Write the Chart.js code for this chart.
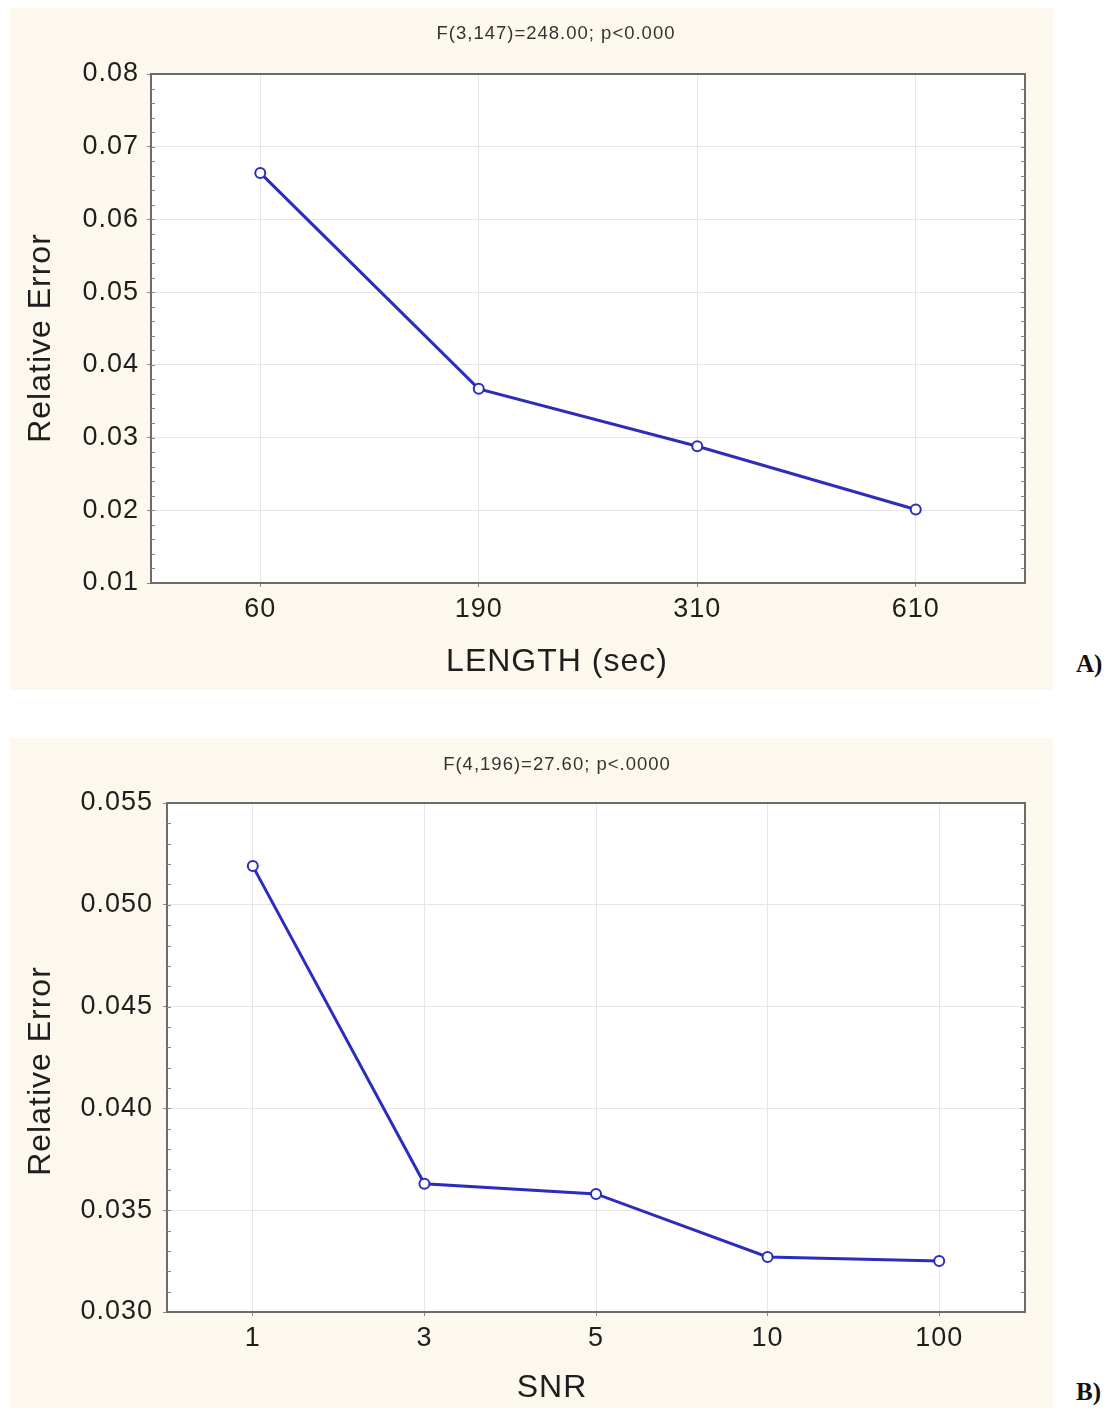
<!DOCTYPE html>
<html>
<head>
<meta charset="utf-8">
<script src="https://cdn.jsdelivr.net/npm/chart.js@4/dist/chart.umd.min.js"></script>
<style>
    body { margin: 0; background: #fff; width: 1110px; height: 1414px; position: relative; overflow: hidden; }
    .panel { position: absolute; left: 10px; width: 1043px; background: #fcf8ee; }
    .tag { position: absolute; left: 1076px; font: bold 25px "Liberation Serif", serif; color: #111; }
</style>
</head>
<body>
<div class="panel" style="top:8px;height:682px;"><canvas id="chartA" width="1043" height="682"></canvas></div>
<div class="panel" style="top:738px;height:670px;"><canvas id="chartB" width="1043" height="670"></canvas></div>
<div class="tag" style="top:650px;">A)</div>
<div class="tag" style="top:1378px;">B)</div>
<script>
// panel A: error vs. signal length
const lengthLabels = ['60', '190', '310', '610'];
const lengthError = [0.0664, 0.0367, 0.0288, 0.0201];
const lengthTicks = { min: 0.01, max: 0.08, step: 0.01, minor: 0.002, digits: 2 };

// panel B: error vs. SNR
const snrLabels = ['1', '3', '5', '10', '100'];
const snrError = [0.0519, 0.0363, 0.0358, 0.0327, 0.0325];
const snrTicks = { min: 0.030, max: 0.055, step: 0.005, minor: 0.001, digits: 3 };

const lineColor = '#2c2cbd';
const frameColor = '#6b6b6b';
const sans = '"Liberation Sans", Arial, sans-serif';

// white plot area, closed frame and small minor ticks like the original
const framePlugin = {
    id: 'frame',
    beforeDraw(chart) {
        const a = chart.chartArea, ctx = chart.ctx;
        ctx.letterSpacing = '1px'; // the original lettering is set a little wide
        ctx.save();
        ctx.fillStyle = '#fff';
        ctx.fillRect(a.left, a.top, a.right - a.left, a.bottom - a.top);
        ctx.restore();
    },
    afterDatasetsDraw(chart, args, opts) {
        const a = chart.chartArea, ctx = chart.ctx, y = chart.scales.y;
        ctx.save();
        ctx.strokeStyle = frameColor;
        ctx.lineWidth = 2;
        ctx.strokeRect(a.left, a.top, a.right - a.left, a.bottom - a.top);
        ctx.lineWidth = 1;
        ctx.strokeStyle = '#888';
        const n = Math.round((opts.max - opts.min) / opts.minor);
        for (let i = 1; i < n; i++) {
            const py = Math.round(y.getPixelForValue(opts.min + i * opts.minor)) + 0.5;
            ctx.beginPath();
            ctx.moveTo(a.left, py); ctx.lineTo(a.left + 4, py);
            ctx.moveTo(a.right, py); ctx.lineTo(a.right - 4, py);
            ctx.stroke();
        }
        ctx.restore();
    }
};

// chart title and axis titles, placed where the original has them
const textPlugin = {
    id: 'texts',
    afterDraw(chart, args, opts) {
        const ctx = chart.ctx;
        opts.items.forEach(it => {
            ctx.save();
            ctx.translate(it.x, it.y);
            if (it.rotate) ctx.rotate(-Math.PI / 2);
            ctx.font = it.font;
            ctx.letterSpacing = '1px';
            ctx.fillStyle = it.color || '#1e1e1e';
            ctx.textAlign = 'center';
            ctx.textBaseline = 'middle';
            ctx.fillText(it.text, 0, 0);
            ctx.restore();
        });
    }
};

function makeChart(id, labels, values, t, box, texts) {
    return new Chart(document.getElementById(id).getContext('2d'), {
        type: 'line',
        data: {
            labels,
            datasets: [{
                data: values,
                borderColor: lineColor,
                borderWidth: 3,
                pointRadius: 5,
                pointBorderWidth: 2,
                pointBackgroundColor: '#fff',
                pointBorderColor: lineColor,
                tension: 0
            }]
        },
        options: {
            responsive: false,
            animation: false,
            layout: { padding: { left: 0, right: box.right, top: box.top, bottom: 0 } },
            plugins: {
                legend: { display: false },
                tooltip: { enabled: false },
                title: { display: false },
                frame: t,
                texts: { items: texts }
            },
            scales: {
                x: {
                    offset: true,
                    afterFit: s => { s.height = box.xHeight; },
                    grid: { color: '#e6e6e6', tickLength: 4, tickColor: '#888' },
                    border: { color: frameColor, width: 2 },
                    ticks: { color: '#1e1e1e', padding: 6, font: { family: sans, size: 27 } }
                },
                y: {
                    min: t.min, max: t.max,
                    afterFit: s => { s.width = box.yWidth; },
                    afterBuildTicks: s => {
                        const n = Math.round((t.max - t.min) / t.step);
                        s.ticks = [];
                        for (let i = 0; i <= n; i++) s.ticks.push({ value: t.min + i * t.step });
                    },
                    grid: { color: '#e6e6e6', tickLength: 4, tickColor: '#888' },
                    border: { color: frameColor, width: 2 },
                    ticks: {
                        color: '#1e1e1e', padding: box.yPad,
                        font: { family: sans, size: 27 },
                        callback: v => Number(v).toFixed(t.digits)
                    }
                }
            }
        },
        plugins: [framePlugin, textPlugin]
    });
}

makeChart('chartA', lengthLabels, lengthError, lengthTicks,
    { right: 28, top: 66, xHeight: 107, yWidth: 141, yPad: 8 },
    [
        { text: 'F(3,147)=248.00; p<0.000', x: 546, y: 26, font: '18.5px ' + sans, color: '#333' },
        { text: 'LENGTH (sec)', x: 547, y: 654, font: '32px ' + sans },
        { text: 'Relative Error', x: 31, y: 330, font: '32px ' + sans, rotate: true }
    ]);

makeChart('chartB', snrLabels, snrError, snrTicks,
    { right: 28, top: 65, xHeight: 96, yWidth: 157, yPad: 10 },
    [
        { text: 'F(4,196)=27.60; p<.0000', x: 547, y: 27, font: '18.5px ' + sans, color: '#333' },
        { text: 'SNR', x: 542, y: 650, font: '32px ' + sans },
        { text: 'Relative Error', x: 31, y: 333, font: '32px ' + sans, rotate: true }
    ]);
</script>
</body>
</html>
